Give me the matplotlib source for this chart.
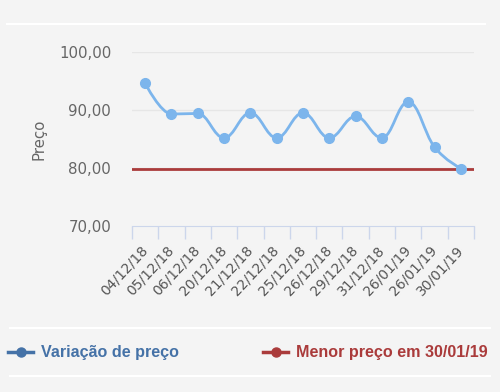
import matplotlib
matplotlib.use("Agg")
import matplotlib.pyplot as plt
from matplotlib.path import Path
from matplotlib.patches import PathPatch
from matplotlib.lines import Line2D
import numpy as np

# dados
datas = ['04/12/18', '05/12/18', '06/12/18', '20/12/18', '21/12/18', '22/12/18',
         '25/12/18', '26/12/18', '29/12/18', '31/12/18', '26/01/19', '26/01/19', '30/01/19']
precos = [94.6, 89.3, 89.4, 85.2, 89.5, 85.2, 89.5, 85.2, 88.9, 85.2, 91.4, 83.6, 79.9]
menor_preco = 79.9
yticks = [70, 80, 90, 100]

BG = '#f4f4f4'
AZUL = '#7cb5ec'
AZUL_LEG = '#4572a7'
VERMELHO = '#aa3b3b'


def spline_path(xs, ys, smoothing=1.5):
    # curva do tipo "spline" (control points a la Highcharts)
    n = len(xs)
    left = [None] * n
    right = [None] * n
    denom = smoothing + 1
    for i in range(1, n - 1):
        px, py = xs[i], ys[i]
        lx, ly = xs[i - 1], ys[i - 1]
        nx, ny = xs[i + 1], ys[i + 1]
        lcx = (smoothing * px + lx) / denom
        lcy = (smoothing * py + ly) / denom
        rcx = (smoothing * px + nx) / denom
        rcy = (smoothing * py + ny) / denom
        if rcx != lcx:
            corr = ((rcy - lcy) * (rcx - px)) / (rcx - lcx) + py - rcy
            lcy += corr
            rcy += corr
        if lcy > ly and lcy > py:
            lcy = max(ly, py)
            rcy = 2 * py - lcy
        elif lcy < ly and lcy < py:
            lcy = min(ly, py)
            rcy = 2 * py - lcy
        if rcy > ny and rcy > py:
            rcy = max(ny, py)
            lcy = 2 * py - rcy
        elif rcy < ny and rcy < py:
            rcy = min(ny, py)
            lcy = 2 * py - rcy
        left[i] = (lcx, lcy)
        right[i] = (rcx, rcy)
    verts = [(xs[0], ys[0])]
    codes = [Path.MOVETO]
    for i in range(1, n):
        c1 = right[i - 1] or (xs[i - 1], ys[i - 1])
        c2 = left[i] or (xs[i], ys[i])
        verts += [c1, c2, (xs[i], ys[i])]
        codes += [Path.CURVE4] * 3
    return Path(verts, codes)


fig = plt.figure(figsize=(5, 3.92), dpi=100, facecolor=BG)
ax = fig.add_axes([0.264, 0.4235, 0.684, 0.4439])
ax.set_facecolor(BG)

x = np.arange(len(precos))
ax.set_xlim(-0.5, len(precos) - 0.5)
ax.set_ylim(70, 100)

for t in yticks[1:]:
    ax.axhline(t, color='#e6e6e6', lw=1, zorder=0)

ax.axhline(menor_preco, color=VERMELHO, lw=2, zorder=2)
ax.add_patch(PathPatch(spline_path(x, precos), facecolor='none', edgecolor=AZUL,
                       lw=2, zorder=3))
ax.plot(x, precos, 'o', color=AZUL, ms=7, mec=AZUL, zorder=4)

for s in ['top', 'right', 'left']:
    ax.spines[s].set_visible(False)
ax.spines['bottom'].set_color('#ccd6eb')

ax.set_yticks(yticks)
ax.set_yticklabels([f'{v:.2f}'.replace('.', ',') for v in yticks],
                   fontsize=10.8, color='#666666')
ax.tick_params(axis='y', length=0, pad=15)

ax.set_xticks(x)
ax.set_xticklabels(datas, rotation=47, ha='right', va='center',
                   rotation_mode='anchor', fontsize=10, color='#555555')
ax.tick_params(axis='x', which='major', length=0, pad=16)
ax.set_xticks(np.arange(len(precos) + 1) - 0.5, minor=True)
ax.tick_params(axis='x', which='minor', length=9, color='#ccd6eb', width=1)

ax.set_ylabel('Preço', fontsize=10.8, color='#666666')
ax.yaxis.set_label_coords(-0.25, 0.5)

# linhas brancas de separação
for yy, x0, x1 in [(24, 7, 485), (328, 10, 490), (376, 10, 490)]:
    fig.add_artist(Line2D([x0 / 500, x1 / 500], [1 - yy / 392] * 2,
                          color='white', lw=1.5))

# legenda
ly = 1 - 352 / 392
fig.add_artist(Line2D([8 / 500, 33 / 500], [ly, ly], color=AZUL_LEG, lw=2.5))
fig.add_artist(Line2D([20.5 / 500], [ly], color=AZUL_LEG, marker='o', ms=6.5, lw=0))
fig.text(41 / 500, ly, 'Variação de preço', fontsize=11.6, fontweight='bold',
         family='Liberation Sans', color=AZUL_LEG, va='center')
fig.add_artist(Line2D([263 / 500, 288 / 500], [ly, ly], color=VERMELHO, lw=2.5))
fig.add_artist(Line2D([275.5 / 500], [ly], color=VERMELHO, marker='o', ms=6.5, lw=0))
fig.text(296 / 500, ly, 'Menor preço em 30/01/19', fontsize=11.6, fontweight='bold',
         family='Liberation Sans', color=VERMELHO, va='center')

fig.savefig('out.png', dpi=100, facecolor=BG)
